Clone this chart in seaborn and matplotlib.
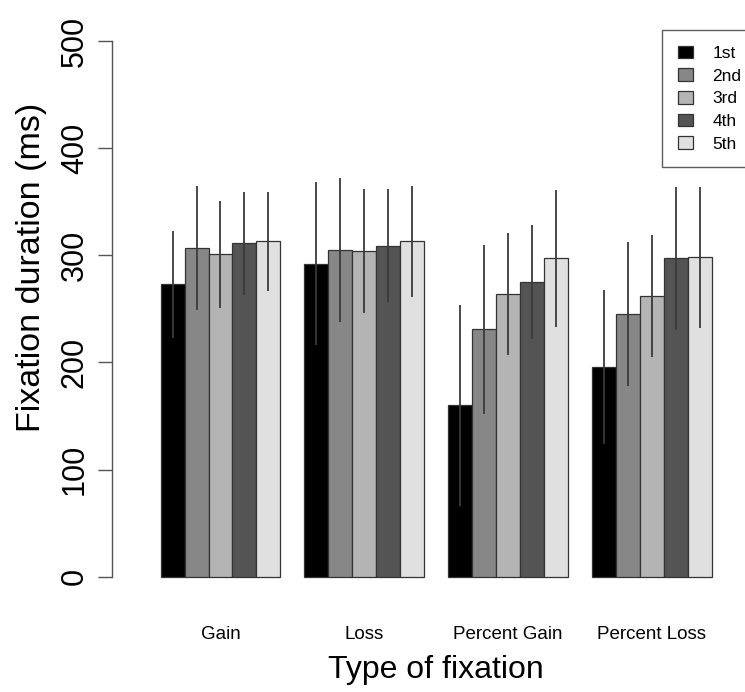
import numpy as np
import pandas as pd
import matplotlib
matplotlib.use("Agg")
import matplotlib.pyplot as plt
import seaborn as sns
from matplotlib.patches import Patch

categories = ["Gain", "Loss", "Percent Gain", "Percent Loss"]
orders = ["1st", "2nd", "3rd", "4th", "5th"]

gain_mean = [273, 307, 301, 311, 313]
loss_mean = [292, 305, 304, 309, 313]
pgain_mean = [160, 231, 264, 275, 297]
ploss_mean = [196, 245, 262, 297, 298]

gain_err = [50, 58, 50, 48, 46]
loss_err = [76, 67, 58, 53, 52]
pgain_err = [94, 79, 57, 53, 64]
ploss_err = [72, 67, 57, 67, 66]

colors = ["#000000", "#878787", "#b4b4b4", "#545454", "#e0e0e0"]

y_ticks = [0, 100, 200, 300, 400, 500]

means = [gain_mean, loss_mean, pgain_mean, ploss_mean]
errs = [gain_err, loss_err, pgain_err, ploss_err]
rows = []
for c, m, e in zip(categories, means, errs):
    for o, mv, ev in zip(orders, m, e):
        rows.append({"type": c, "order": o, "mean": mv, "err": ev})
df = pd.DataFrame(rows)

sns.set_style("white")
plt.rcParams["font.family"] = ["Liberation Sans", "DejaVu Sans"]
plt.rcParams["text.color"] = "black"
plt.rcParams["axes.labelcolor"] = "black"
plt.rcParams["xtick.color"] = "black"
plt.rcParams["ytick.color"] = "black"

fig = plt.figure(figsize=(7.45, 6.92), dpi=100)
ax = fig.add_axes([112 / 745, 0.1357, 633 / 745, 0.836])

sns.barplot(data=df, x="type", y="mean", hue="order", order=categories,
            hue_order=orders, palette=colors, width=5 / 6, errorbar=None,
            edgecolor="#333333", linewidth=0.9, legend=False, ax=ax)

# error bars
for cont, o in zip(ax.containers, orders):
    sub = df[df["order"] == o].set_index("type").loc[categories]
    for bar, (mv, ev) in zip(cont, zip(sub["mean"], sub["err"])):
        xc = bar.get_x() + bar.get_width() / 2
        ax.vlines(xc, mv - ev, mv + ev, color="#3a3a3a", linewidth=1.3, zorder=5)

ax.set_xlim(-0.7545, -0.7545 + 633 / 143.8)
ax.set_ylim(-20, 520)
ax.set_yticks(y_ticks)
ax.set_yticklabels([str(t) for t in y_ticks], rotation=90, va="center")
ax.tick_params(axis="y", left=True, length=10, width=1, color="#555555",
               labelcolor="black", labelsize=22, pad=6)
ax.tick_params(axis="x", length=0, labelsize=13.5, pad=20, labelcolor="black")
for s in ["top", "right", "bottom"]:
    ax.spines[s].set_visible(False)
ax.spines["left"].set_bounds(0, 500)
ax.spines["left"].set_color("#555555")
ax.spines["left"].set_linewidth(1)

ax.set_xlabel("Type of fixation", fontsize=23, color="black")
ax.xaxis.set_label_coords((436 - 112) / 633, -0.098)
ax.set_ylabel("Fixation duration (ms)", fontsize=24.5, color="black")
ax.yaxis.set_label_coords(-0.103, 0.572)

handles = [Patch(facecolor=c, edgecolor="#333333", linewidth=0.9) for c in colors]
leg = fig.legend(handles, orders, loc="upper left",
                 bbox_to_anchor=(662 / 745, (692 - 30) / 692),
                 bbox_transform=fig.transFigure, fontsize=12.5,
                 frameon=True, fancybox=False, borderaxespad=0,
                 handlelength=0.9, handleheight=0.75, labelspacing=0.42,
                 borderpad=0.9, handletextpad=1.1)
leg.get_frame().set_edgecolor("#333333")
leg.get_frame().set_linewidth(1)
for t in leg.get_texts():
    t.set_color("black")

fig.savefig("out.png", dpi=100)
